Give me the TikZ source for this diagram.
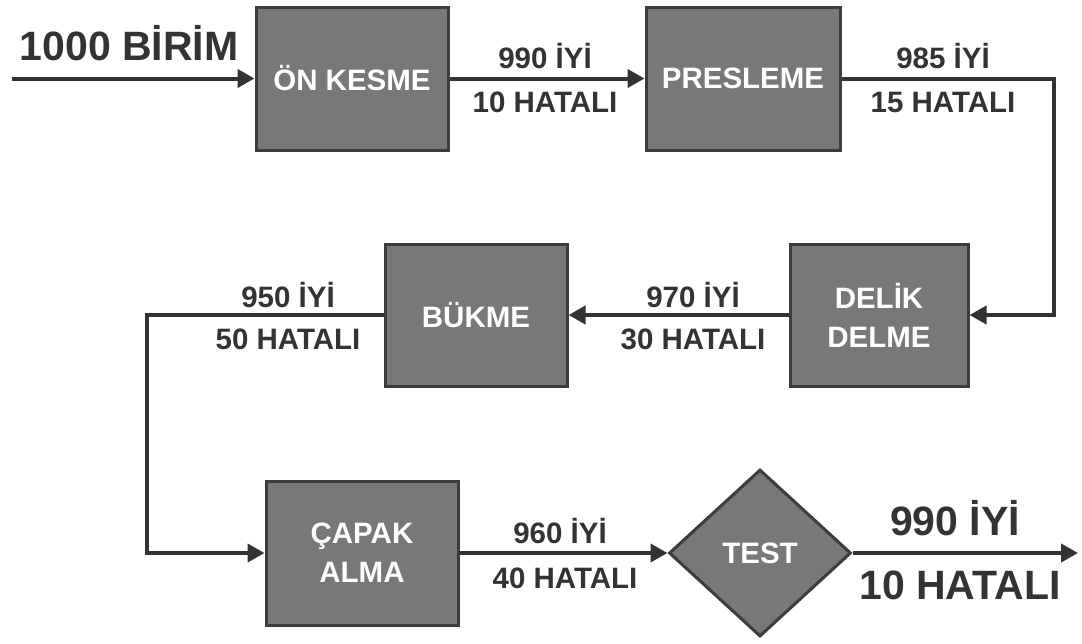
\documentclass[tikz,border=0pt]{standalone}
\usepackage{fontspec}
\setmainfont{Liberation Sans}
\usetikzlibrary{arrows.meta,shapes.geometric}
\definecolor{boxfill}{HTML}{787878}
\definecolor{boxline}{HTML}{3C3C3C}
\definecolor{ink}{HTML}{333333}
\begin{document}
\begin{tikzpicture}[x=1pt,y=-1pt,
  proc/.style={draw=boxline,fill=boxfill,line width=3pt,text=white,inner sep=0pt,
    font=\fontsize{29.5}{39}\selectfont\bfseries,align=center},
  flow/.style={draw=ink,line width=4pt,-{Triangle[length=17pt,width=18pt]}},
  lbl/.style={text=ink,inner sep=0pt,anchor=base,font=\fontsize{29.5}{34}\selectfont\bfseries},
  big/.style={text=ink,inner sep=0pt,anchor=base,font=\fontsize{41}{46}\selectfont\bfseries}]
\useasboundingbox (0,0) rectangle (1082,643);
\node[proc,minimum width=192pt,minimum height=143pt] (onk) at (352,78.5) {ÖN KESME};
\node[proc,minimum width=194pt,minimum height=143pt] (pres) at (743,78.5) {PRESLEME};
\node[proc,minimum width=178pt,minimum height=142pt] (delik) at (879,315) {DELİK\\DELME};
\node[proc,minimum width=182pt,minimum height=142pt] (buk) at (476,315) {BÜKME};
\node[proc,minimum width=192pt,minimum height=144pt] (capak) at (362,553) {ÇAPAK\\ALMA};
\node[proc,shape=diamond,aspect=1.09,minimum width=182pt,minimum height=167pt] (test) at (760,553) {TEST};
\coordinate (in) at (12,78.5);
\coordinate (r1) at (1054,0);
\coordinate (l1) at (147,0);
\coordinate (out) at (1078,553);
\draw[flow] (in) -- (onk.west);
\draw[flow] (onk.east) -- (pres.west);
\draw[flow] (pres.east) -| (r1 |- delik.east) -- (delik.east);
\draw[flow] (delik.west) -- (buk.east);
\draw[flow] (buk.west) -| (l1 |- capak.west) -- (capak.west);
\draw[flow] (capak.east) -- (test.west);
\draw[flow] (test.east) -- (out);
\node[big] (t0) at (129,60) {1000 BİRİM};
\node[lbl] (t1a) at (545,68) {990 İYİ};
\node[lbl] (t1b) at (545,112) {10 HATALI};
\node[lbl] (t2a) at (943,68) {985 İYİ};
\node[lbl] (t2b) at (943,112) {15 HATALI};
\node[lbl] (t3a) at (693,307) {970 İYİ};
\node[lbl] (t3b) at (693,349) {30 HATALI};
\node[lbl] (t4a) at (288,307) {950 İYİ};
\node[lbl] (t4b) at (288,349) {50 HATALI};
\node[lbl] (t5a) at (560,543) {960 İYİ};
\node[lbl] (t5b) at (565,588) {40 HATALI};
\node[big] (t6a) at (955,535) {990 İYİ};
\node[big] (t6b) at (960,599) {10 HATALI};
\end{tikzpicture}
\end{document}
